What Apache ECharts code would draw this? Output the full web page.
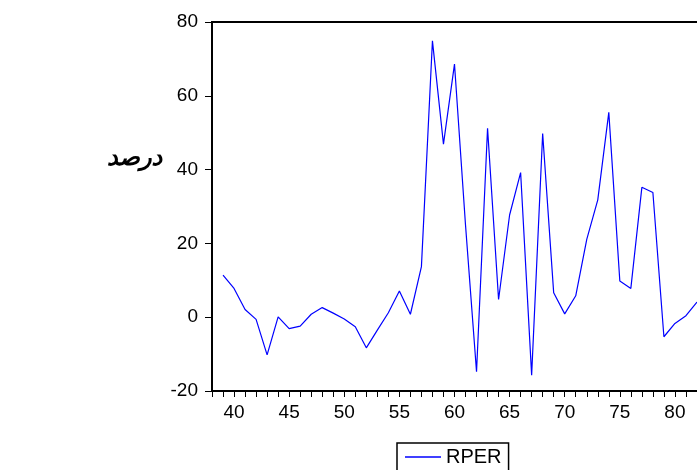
<!DOCTYPE html>
<html lang="fa">
<head>
 <meta charset="UTF-8">
 <title>RPER</title>
 <style>html,body{margin:0;padding:0;background:#fff;}</style>
</head>
<body>
 <div id="main" style="width: 697px;height:470px;"></div>
 <script src="https://cdn.jsdelivr.net/npm/echarts@6/dist/echarts.min.js"></script>
 <script type="text/javascript">
var years = [39, 40, 41, 42, 43, 44, 45, 46, 47, 48, 49, 50, 51, 52, 53, 54, 55, 56, 57, 58, 59, 60,
             61, 62, 63, 64, 65, 66, 67, 68, 69, 70, 71, 72, 73, 74, 75, 76, 77, 78, 79, 80, 81, 82];
var rper = [11.4, 7.8, 2.1, -0.6, -10.2, 0.1, -3.1, -2.4, 0.8, 2.6, 1.1, -0.5, -2.6, -8.3, -3.5, 1.2, 7.1, 0.8, 13.7, 74.9, 46.9, 68.6,
            25, -14.8, 51.2, 4.8, 27.7, 39.2, -15.7, 49.8, 6.6, 0.9, 5.8, 21.1, 31.8, 55.5, 9.8, 7.8, 35.2, 33.8, -5.3, -1.7, 0.4, 4.1];
var yTicks = [-20, 0, 20, 40, 60, 80];
var yLabel = 'درصد';

var myChart = echarts.init(document.getElementById('main'));

var points = years.map(function (y, i) { return [y, rper[i]]; });
var labelFont = { color: '#000', fontSize: 19, fontFamily: 'Liberation Sans, Arial, sans-serif' };

myChart.setOption({
    backgroundColor: '#fff',
    animation: false,
    // the plot runs past the right edge of the picture, as in the original
    grid: {
        left: 212,
        width: 496,
        top: 22,
        height: 369,
        outerBoundsMode: 'none',
        containLabel: false,
        show: true,
        borderColor: '#000',
        borderWidth: 2
    },
    xAxis: {
        type: 'value',
        min: 38,
        max: 83,
        interval: 1,
        axisLine: { onZero: false, lineStyle: { color: '#000', width: 2 } },
        axisTick: { length: 6, lineStyle: { color: '#000', width: 1 } },
        axisLabel: Object.assign({
            margin: 12,
            formatter: function (v) { return v % 5 === 0 && v <= 80 ? String(v) : ''; }
        }, labelFont),
        splitLine: { show: false }
    },
    yAxis: {
        type: 'value',
        min: yTicks[0],
        max: yTicks[yTicks.length - 1],
        interval: 20,
        axisLine: { show: true, onZero: false, lineStyle: { color: '#000', width: 2 } },
        axisTick: { show: true, length: 7, lineStyle: { color: '#000', width: 1 } },
        axisLabel: Object.assign({ margin: 14 }, labelFont),
        splitLine: { show: false }
    },
    legend: {
        data: [{ name: 'RPER', icon: 'rect' }],
        left: 397,
        top: 443,
        orient: 'horizontal',
        itemWidth: 36,
        itemHeight: 1.5,
        padding: [4, 7, 30, 8],
        borderColor: '#000',
        borderWidth: 1.5,
        textStyle: { color: '#000', fontSize: 20, fontFamily: 'Liberation Sans, Arial, sans-serif' }
    },
    graphic: [{
        type: 'text',
        left: 107,
        top: 147,
        style: {
            text: yLabel,
            fill: '#000',
            font: 'italic bold 24px "DejaVu Sans", sans-serif'
        }
    }],
    series: [{
        name: 'RPER',
        type: 'line',
        data: points,
        symbol: 'none',
        lineStyle: { color: '#0000ff', width: 1.2 },
        itemStyle: { color: '#0000ff' }
    }]
});
 </script>
</body>
</html>
